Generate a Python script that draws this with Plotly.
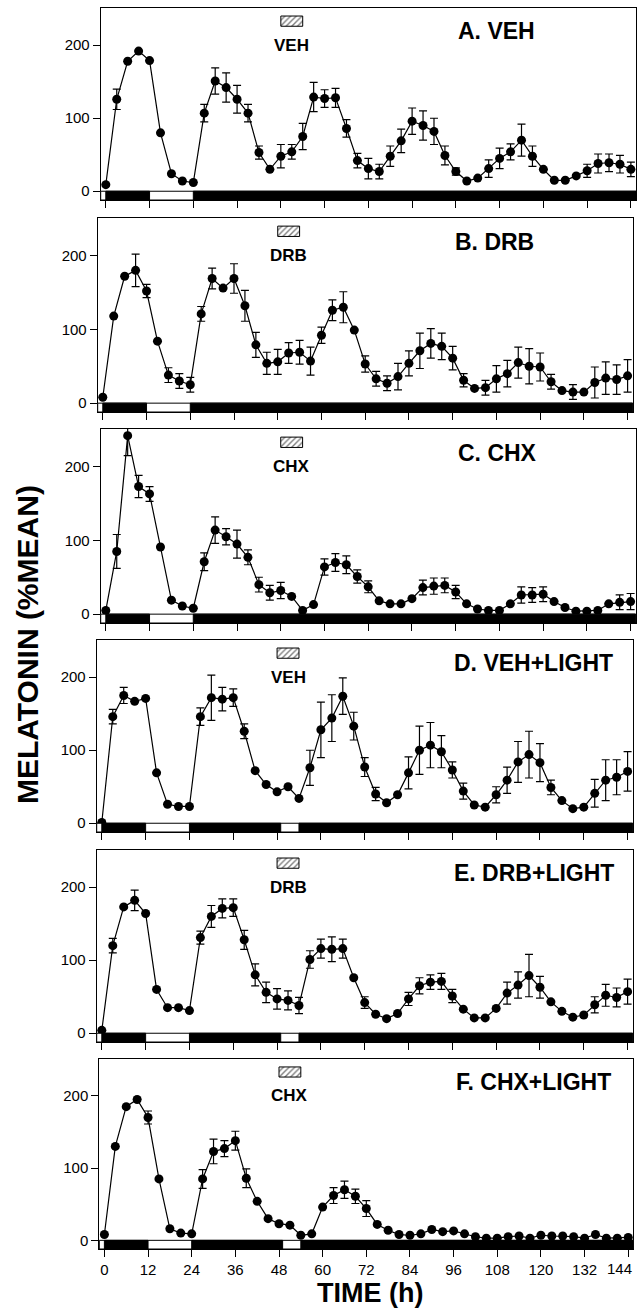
import plotly.graph_objects as go

# ---------------- data ----------------
TIME_H = list(range(0, 145, 3))

VEH = [9, 126, 178, 192, 179, 80, 24, 14, 12,
       107, 151, 142, 126, 107, 53, 30, 48, 54, 75, 129, 127, 128, 86, 42,
       31, 27, 48, 69, 96, 90, 82, 49, 27, 14, 18, 31, 45, 54, 70, 48, 30, 15, 15, 21, 28, 38, 39, 37, 30]
VEH_SEM = [0, 14, 0, 0, 0, 0, 0, 0, 0,
           12, 18, 20, 19, 12, 9, 0, 16, 10, 18, 20, 12, 13, 12, 10,
           14, 10, 14, 16, 18, 20, 18, 13, 5, 0, 0, 12, 14, 11, 22, 14, 0, 0, 0, 0, 9, 13, 12, 12, 10]

DRB = [8, 118, 172, 180, 152, 84, 38, 30, 25,
       121, 169, 156, 169, 132, 79, 54, 56, 68, 69, 57, 92, 126, 130, 99,
       53, 33, 27, 36, 54, 71, 81, 77, 61, 31, 20, 21, 33, 40, 55, 50, 49, 29, 17, 15, 15, 28, 34, 32, 37]
DRB_SEM = [0, 0, 0, 22, 9, 0, 10, 10, 10,
           10, 14, 0, 20, 21, 17, 15, 17, 14, 16, 19, 11, 14, 21, 0,
           11, 10, 10, 18, 17, 24, 20, 18, 16, 9, 0, 10, 18, 18, 21, 24, 19, 10, 0, 10, 0, 21, 22, 20, 22]

CHX = [5, 85, 242, 173, 163, 91, 19, 11, 8,
       71, 114, 105, 95, 77, 40, 29, 32, 24, 5, 13, 64, 70, 67, 51,
       37, 18, 14, 14, 21, 36, 38, 39, 30, 14, 7, 5, 5, 14, 26, 26, 27, 17, 9, 4, 4, 5, 14, 16, 17]
CHX_SEM = [0, 23, 27, 15, 10, 0, 0, 0, 0,
           12, 18, 11, 19, 10, 10, 10, 11, 0, 0, 0, 11, 12, 12, 9,
           8, 0, 0, 0, 0, 10, 11, 10, 9, 0, 0, 0, 0, 0, 11, 10, 10, 0, 0, 0, 0, 0, 0, 10, 11]

VEH_LIGHT = [1, 146, 175, 167, 171, 69, 26, 23, 23,
             146, 172, 170, 172, 126, 72, 53, 43, 50, 34, 76, 128, 144, 174, 133,
             77, 40, 28, 39, 69, 100, 107, 98, 73, 44, 25, 22, 39, 59, 84, 94, 83, 49, 31, 20, 22, 41, 59, 63, 71]
VEH_LIGHT_SEM = [0, 10, 11, 0, 0, 0, 0, 0, 0,
                 12, 31, 16, 12, 10, 0, 0, 0, 0, 0, 24, 38, 32, 25, 19,
                 13, 9, 0, 0, 22, 33, 31, 22, 11, 11, 0, 0, 11, 18, 28, 32, 26, 10, 0, 0, 0, 19, 28, 24, 27]

DRB_LIGHT = [4, 120, 173, 182, 164, 60, 35, 35, 31,
             131, 160, 171, 172, 128, 80, 56, 47, 45, 38, 101, 116, 115, 116, 76,
             42, 26, 20, 27, 47, 65, 70, 71, 51, 33, 21, 21, 34, 55, 66, 79, 63, 43, 30, 22, 25, 39, 52, 49, 57]
DRB_LIGHT_SEM = [0, 10, 0, 14, 0, 0, 0, 0, 0,
                 9, 15, 13, 12, 13, 15, 14, 14, 13, 11, 12, 13, 17, 13, 0,
                 8, 0, 0, 0, 9, 11, 10, 11, 9, 0, 0, 0, 0, 15, 18, 29, 15, 0, 0, 0, 0, 11, 15, 13, 17]

CHX_LIGHT = [8, 130, 185, 195, 170, 85, 16, 10, 9,
             85, 123, 127, 138, 86, 54, 30, 23, 21, 7, 9, 46, 62, 70, 61,
             44, 22, 14, 8, 7, 9, 15, 12, 13, 9, 5, 3, 3, 5, 6, 3, 7, 6, 6, 5, 3, 8, 3, 3, 4]
CHX_LIGHT_SEM = [0, 0, 0, 0, 9, 0, 0, 0, 0,
                 13, 17, 11, 13, 13, 0, 0, 0, 0, 0, 0, 0, 11, 12, 10,
                 11, 0, 0, 0, 0, 0, 0, 0, 0, 0, 0, 0, 0, 0, 0, 0, 0, 0, 0, 0, 0, 0, 0, 0, 0]

PANEL_TITLES = ["A. VEH", "B. DRB", "C. CHX", "D. VEH+LIGHT", "E. DRB+LIGHT", "F. CHX+LIGHT"]
DRUG_LABELS = ["VEH", "DRB", "CHX", "VEH", "DRB", "CHX"]
SERIES = [VEH, DRB, CHX, VEH_LIGHT, DRB_LIGHT, CHX_LIGHT]
SERIES_SEM = [VEH_SEM, DRB_SEM, CHX_SEM, VEH_LIGHT_SEM, DRB_LIGHT_SEM, CHX_LIGHT_SEM]

X_TICKS = list(range(0, 145, 12))
X_TICK_LABELS = ["0", "12", "24", "36", "48", "60", "72", "84", "96", "108", "120", "132", "144"]
Y_TICKS = [0, 100, 200]
DRUG_WINDOW = (48, 54)        # hours, hatched box
LIGHT_PULSE = (49, 54)        # hours, light pulse in D-F
DARK_NO_PULSE = [(0, 12), (24, None)]
DARK_WITH_PULSE = [(0, 12), (24, LIGHT_PULSE[0]), (LIGHT_PULSE[1], None)]
DARK_SCHEDULES = [DARK_NO_PULSE] * 3 + [DARK_WITH_PULSE] * 3

# ---------------- layout geometry ----------------
W, H = 640, 1311
X_RANGE = [-1.4, 145.4]
Y_RANGE = [-12, 251]
BAR_BOTTOM = Y_RANGE[0]
# panel boxes in pixels: (left, right, top, bottom)
BOXES = [(100.7, 636, 8, 200), (97.7, 632.7, 218, 412), (100.7, 635.7, 429, 623),
         (96.7, 632.7, 640, 832), (96.7, 632.7, 850, 1042), (99.3, 633.3, 1059, 1249)]

FONT = "Liberation Sans, Arial, Helvetica, sans-serif"

fig = go.Figure()
shapes = []
annotations = []
layout = {}

for i in range(6):
    sx = "" if i == 0 else str(i + 1)
    xref, yref = "x" + sx, "y" + sx
    l, r, t, b = BOXES[i]

    fig.add_trace(go.Scatter(
        x=TIME_H, y=SERIES[i], mode="lines+markers",
        line=dict(color="black", width=1.2),
        marker=dict(color="black", size=9),
        error_y=dict(type="data", array=SERIES_SEM[i], visible=True,
                     color="black", thickness=1.2, width=4),
        xaxis=xref, yaxis=yref, showlegend=False, hoverinfo="skip",
    ))

    # hatched drug-treatment box
    fig.add_trace(go.Bar(
        x=[(DRUG_WINDOW[0] + DRUG_WINDOW[1]) / 2], y=[14], base=[226],
        width=[DRUG_WINDOW[1] - DRUG_WINDOW[0]],
        marker=dict(color="white", line=dict(color="black", width=1),
                    pattern=dict(shape="/", fgcolor="black", bgcolor="white",
                                 size=4, solidity=0.35)),
        xaxis=xref, yaxis=yref, showlegend=False, hoverinfo="skip",
    ))

    last = (i == 5)
    layout["xaxis" + sx] = dict(
        domain=[l / W, r / W], range=X_RANGE, anchor=yref,
        tickvals=X_TICKS,
        # the right-most label is drawn as an annotation so it stays inside the page
        ticktext=X_TICK_LABELS[:-1] + [""],
        ticks="outside", ticklen=7, tickwidth=1, tickcolor="black",
        showticklabels=last, tickfont=dict(family=FONT, size=15, color="black"),
        showline=True, mirror=True, linecolor="black", linewidth=1,
        showgrid=False, zeroline=False, fixedrange=True,
    )
    layout["yaxis" + sx] = dict(
        domain=[1 - b / H, 1 - t / H], range=Y_RANGE, anchor=xref,
        tickvals=Y_TICKS, ticks="outside", ticklen=7, tickwidth=1, tickcolor="black",
        tickfont=dict(family=FONT, size=15, color="black"),
        showline=True, mirror=True, linecolor="black", linewidth=1,
        showgrid=False, zeroline=False, fixedrange=True,
    )

    if last:
        annotations.append(dict(xref=xref, yref=yref, x=X_TICKS[-1], y=BAR_BOTTOM,
                                text=X_TICK_LABELS[-1], showarrow=False,
                                xanchor="right", yanchor="top", xshift=6, yshift=-9,
                                font=dict(family=FONT, size=15, color="black")))

    # light/dark bar
    shapes.append(dict(type="rect", xref=xref + " domain", yref=yref,
                       x0=0, x1=1, y0=BAR_BOTTOM, y1=0,
                       fillcolor="white", line=dict(color="black", width=1)))
    for d0, d1 in DARK_SCHEDULES[i]:
        shapes.append(dict(type="rect", xref=xref, yref=yref,
                           x0=d0, x1=(X_RANGE[1] if d1 is None else d1),
                           y0=BAR_BOTTOM, y1=0,
                           fillcolor="black", line=dict(color="black", width=1)))

    annotations.append(dict(xref=xref, yref=yref, x=96, y=219,
                            text="<b>" + PANEL_TITLES[i] + "</b>", showarrow=False,
                            xanchor="left", yanchor="middle",
                            font=dict(family=FONT, size=23, color="black")))
    annotations.append(dict(xref=xref, yref=yref,
                            x=(DRUG_WINDOW[0] + DRUG_WINDOW[1]) / 2, y=200,
                            text="<b>" + DRUG_LABELS[i] + "</b>", showarrow=False,
                            xanchor="center", yanchor="middle",
                            font=dict(family=FONT, size=17, color="black")))

annotations.append(dict(xref="paper", yref="paper", x=27 / W, y=1 - 645 / H,
                        text="<b>MELATONIN (%MEAN)</b>", showarrow=False, textangle=-90,
                        xanchor="center", yanchor="middle",
                        font=dict(family=FONT, size=30, color="black")))
annotations.append(dict(xref="paper", yref="paper", x=370 / W, y=1 - 1293 / H,
                        text="<b>TIME (h)</b>", showarrow=False,
                        xanchor="center", yanchor="middle",
                        font=dict(family=FONT, size=27, color="black")))

fig.update_layout(
    width=W, height=H, margin=dict(l=0, r=0, t=0, b=0),
    paper_bgcolor="white", plot_bgcolor="white",
    shapes=shapes, annotations=annotations, showlegend=False,
    **layout,
)

fig.write_html(
    "out.html",
    config={"displayModeBar": False},
    post_script="document.documentElement.style.overflow='hidden';"
                "document.body.style.margin='0';document.body.style.padding='0';"
                "document.body.style.overflow='hidden';",
)
